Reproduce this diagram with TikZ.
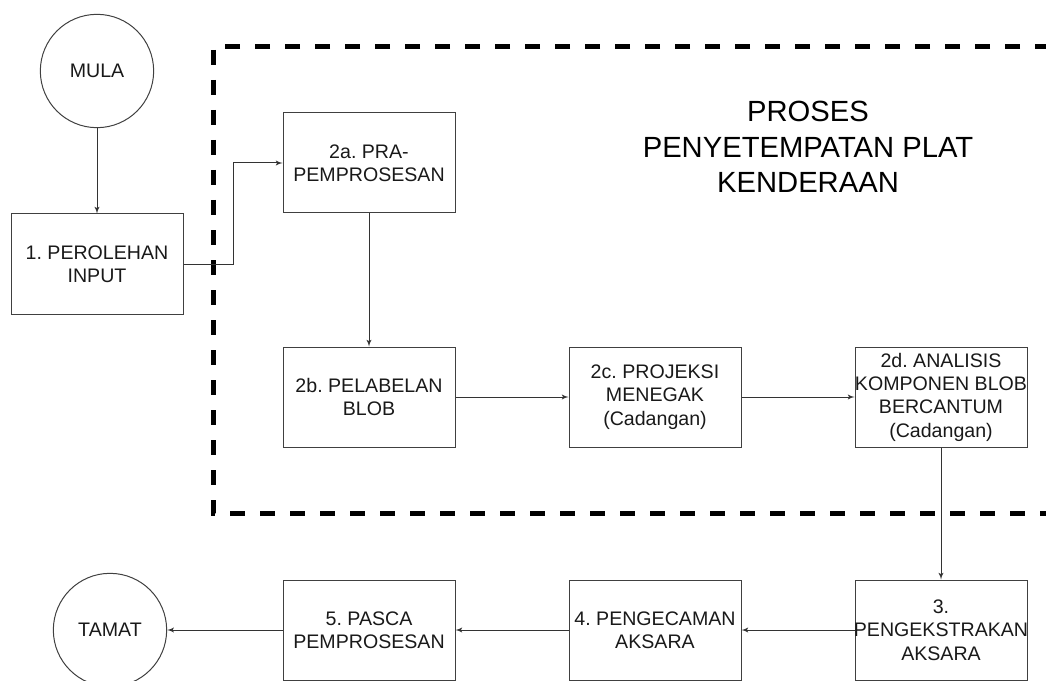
\documentclass[tikz,border=0pt]{standalone}
\usepackage{fontspec}
\setmainfont{Liberation Sans}
\usetikzlibrary{arrows}
\frenchspacing

\tikzset{
  langkah/.style={draw=black!75, line width=0.75pt, text=black!90, inner sep=0pt,
    minimum width=129pt, minimum height=75pt, align=center,
    font=\fontsize{14.7}{17.5}\selectfont},
  terminal/.style={circle, draw=black!75, line width=0.75pt, text=black!90, inner sep=0pt,
    minimum size=85pt, font=\fontsize{14.7}{17.5}\selectfont},
  aliran/.style={->, draw=black!80, line width=0.75pt},
  sempadan/.style={line width=3.75pt, dash pattern=on 11pt off 11.5pt}
}
\newcommand{\muat}[1]{\makebox[120pt]{#1}}

\begin{document}
\begin{tikzpicture}[>= latex', x=0.75pt, y=-0.75pt]
         \useasboundingbox (0,0) rectangle (1046,681);
         % kawasan proses penyetempatan plat
         \draw[sempadan] (1080,47) -- (213,47) -- (213,513) -- (1080,513);
         \node[align=center, inner sep=0pt, font=\fontsize{21.9}{26.6}\selectfont] (tajuk) at (808,147)
              {PROSES\\PENYETEMPATAN PLAT\\KENDERAAN};
         % nod
         \node[terminal] (mula) at (97,71) {MULA};
         \node[langkah] (input) at (97,264) {1. PEROLEHAN\\INPUT};
         \node[langkah] (pra) at (369,163) {2a. PRA-\\PEMPROSESAN};
         \node[langkah] (blob) at (369,397) {2b. PELABELAN\\BLOB};
         \node[langkah] (projeksi) at (655,397) {2c. PROJEKSI\\MENEGAK\\(Cadangan)};
         \node[langkah] (analisis) at (941,397) {2d. ANALISIS\\\muat{KOMPONEN BLOB}\\BERCANTUM\\(Cadangan)};
         \node[langkah] (ekstrak) at (941,630) {3.\\\muat{PENGEKSTRAKAN}\\AKSARA};
         \node[langkah] (kecam) at (655,630) {4. PENGECAMAN\\AKSARA};
         \node[langkah] (pasca) at (369,630) {5. PASCA\\PEMPROSESAN};
         \node[terminal] (tamat) at (110,630) {TAMAT};
         % aliran
         \draw[aliran] (mula) -- (input);
         \draw[aliran] (input.east) -- ++(50,0) |- (pra.west);
         \draw[aliran] (pra) -- (blob);
         \draw[aliran] (blob) -- (projeksi);
         \draw[aliran] (projeksi) -- (analisis);
         \draw[aliran] (analisis) -- (ekstrak);
         \draw[aliran] (ekstrak) -- (kecam);
         \draw[aliran] (kecam) -- (pasca);
         \draw[aliran] (pasca) -- (tamat);
        \end{tikzpicture}
\end{document}
